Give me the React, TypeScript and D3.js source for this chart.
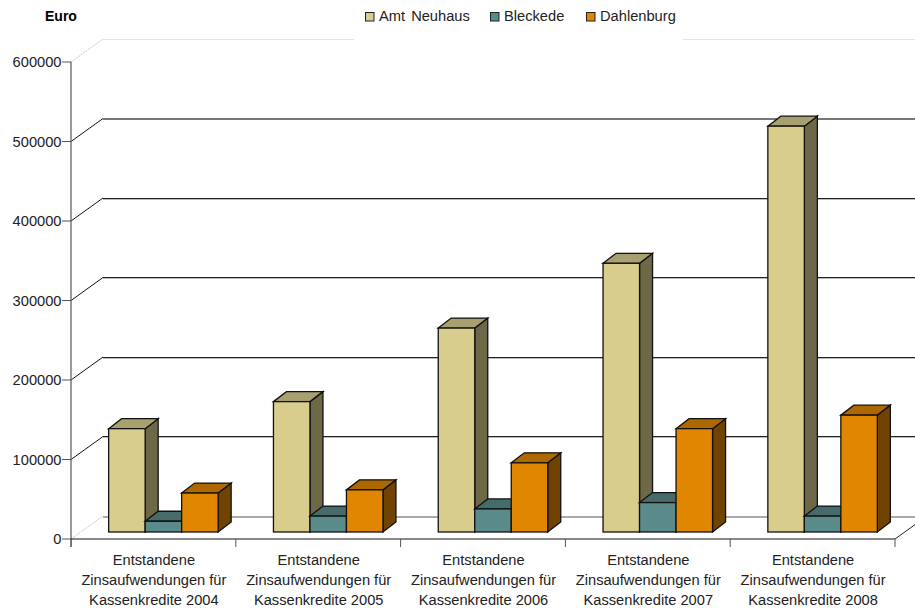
import * as d3 from "d3";

const years = ["2004", "2005", "2006", "2007", "2008"];
const seriesNames = ["Amt Neuhaus", "Bleckede", "Dahlenburg"];
const amtNeuhaus = [130000, 164000, 256500, 338000, 510500];
const bleckede = [13500, 20000, 29000, 37000, 20000];
const dahlenburg = [49000, 53000, 87000, 130000, 147000];
const yTicks = [0, 100000, 200000, 300000, 400000, 500000, 600000];

const frontColors = ["#d8cd8c", "#5b8a8a", "#e08600"];
const topColors = ["#a9a070", "#466b6b", "#ad6800"];
const sideColors = ["#6d6848", "#3a5a5a", "#704400"];

const width = 915;
const height = 608;
const axisX = 71;
const axisRight = 895;
const axisBottom = 539;
const axisTop = 62;
const wallDx = 32;
const wallDy = -23;
const barDx = 13;
const barDy = -10;
const barShiftX = 10;
const barShiftY = -7;
const font = "'Liberation Sans', Arial, sans-serif";

const seriesValues = [amtNeuhaus, bleckede, dahlenburg];

export default function App() {
  const y = d3.scaleLinear().domain([0, 600000]).range([axisBottom, axisTop]);
  const x = d3.scaleBand<string>().domain(years).range([axisX, axisRight]);
  const xInner = d3.scaleBand<string>().domain(seriesNames).range([0, 109.5]);
  const groupOffset = (x.bandwidth() - 109.5) / 2 + barShiftX;
  const baseY = y(0) + barShiftY;

  return (
    <svg
      width={width}
      height={height}
      style={{ position: "absolute", left: 0, top: 0, background: "#fff" }}
      fontFamily={font}
    >
      {/* back wall grid */}
      {yTicks.map((t) => {
        const faint = t === 0 || t === 600000;
        const wallY = Math.floor(y(t) + wallDy);
        const wallLeft = axisX + wallDx;
        const wallRight = axisRight + wallDx;
        return (
          <g key={t}>
            <line
              x1={axisX}
              y1={y(t)}
              x2={wallLeft}
              y2={y(t) + wallDy}
              stroke={faint ? "#c8c8c8" : "#111"}
              strokeDasharray={faint ? "2 1" : undefined}
            />
            {t === 600000 && (
              <line x1={wallLeft} y1={wallY + 0.5} x2={wallRight} y2={wallY + 0.5} stroke="#e4e4e4" />
            )}
            {t === 0 && (
              <line x1={wallLeft} y1={wallY + 1} x2={wallRight} y2={wallY + 1} stroke="#aaa" strokeWidth={2} />
            )}
            {t === 500000 && (
              <line x1={wallLeft} y1={wallY + 1} x2={wallRight} y2={wallY + 1} stroke="#777" strokeWidth={2} />
            )}
            {t > 0 && t < 500000 && (
              <>
                <line x1={wallLeft} y1={wallY + 0.5} x2={wallRight} y2={wallY + 0.5} stroke="#222" />
                <line x1={wallLeft} y1={wallY + 1.5} x2={wallRight} y2={wallY + 1.5} stroke="#bbb" />
              </>
            )}
          </g>
        );
      })}
      <line
        x1={axisRight}
        y1={axisBottom}
        x2={axisRight + wallDx}
        y2={axisBottom + wallDy}
        stroke="#222"
      />

      {/* bars */}
      {years.map((year, i) =>
        seriesNames.map((name, s) => {
          const x0 = (x(year) as number) + groupOffset + (xInner(name) as number);
          const x1 = x0 + xInner.bandwidth();
          const top = y(seriesValues[s][i]) + barShiftY;
          const topPath = d3.path();
          topPath.moveTo(x0, top);
          topPath.lineTo(x0 + barDx, top + barDy);
          topPath.lineTo(x1 + barDx, top + barDy);
          topPath.lineTo(x1, top);
          topPath.closePath();
          const sidePath = d3.path();
          sidePath.moveTo(x1, top);
          sidePath.lineTo(x1 + barDx, top + barDy);
          sidePath.lineTo(x1 + barDx, baseY + barDy);
          sidePath.lineTo(x1, baseY);
          sidePath.closePath();
          return (
            <g key={year + name} stroke="#111" strokeWidth={1.3}>
              <path d={sidePath.toString()} fill={sideColors[s]} />
              <path d={topPath.toString()} fill={topColors[s]} />
              <rect
                x={x0}
                y={top}
                width={xInner.bandwidth()}
                height={baseY - top}
                fill={frontColors[s]}
              />
            </g>
          );
        }),
      )}

      {/* axes */}
      <line x1={axisX} y1={axisTop} x2={axisX} y2={axisBottom + 8} stroke="#555" strokeWidth={1.2} />
      <line x1={axisX} y1={axisBottom} x2={axisRight} y2={axisBottom} stroke="#111" />
      {yTicks.map((t) => (
        <g key={t}>
          <line x1={axisX - 9} y1={y(t)} x2={axisX} y2={y(t)} stroke="#555" />
          <text
            x={axisX - 9.5}
            y={y(t) + 5}
            textAnchor="end"
            fontSize={14.67}
            fill="#222"
          >
            {t}
          </text>
        </g>
      ))}
      {years.map((year, i) => {
        const left = x(year) as number;
        return (
          <g key={year}>
            <line x1={left} y1={axisBottom} x2={left} y2={axisBottom + 8} stroke="#555" />
            {i === years.length - 1 && (
              <line
                x1={axisRight}
                y1={axisBottom}
                x2={axisRight}
                y2={axisBottom + 8}
                stroke="#555"
              />
            )}
            <text textAnchor="middle" fontSize={14.67} fill="#222">
              <tspan x={left + x.bandwidth() / 2 + 0.5} y={565}>
                Entstandene
              </tspan>
              <tspan x={left + x.bandwidth() / 2 + 0.5} y={585}>
                Zinsaufwendungen für
              </tspan>
              <tspan x={left + x.bandwidth() / 2 + 0.5} y={605}>
                {"Kassenkredite " + year}
              </tspan>
            </text>
          </g>
        );
      })}

      {/* title and legend */}
      <text x={45} y={21} fontSize={14} fontWeight="bold" fill="#000">
        Euro
      </text>
      <rect x={354} y={0} width={329} height={44} fill="#fff" />
      {seriesNames.map((name, s) => {
        const legendX = [365, 490, 586][s];
        return (
          <g key={name}>
            <rect
              x={legendX + 0.5}
              y={12.5}
              width={8.5}
              height={8.5}
              fill={frontColors[s]}
              stroke="#222"
            />
            <text
              x={legendX + 14}
              y={21}
              fontSize={14.67}
              fill="#222"
              wordSpacing={s === 0 ? 2 : 0}
            >
              {name}
            </text>
          </g>
        );
      })}
    </svg>
  );
}
